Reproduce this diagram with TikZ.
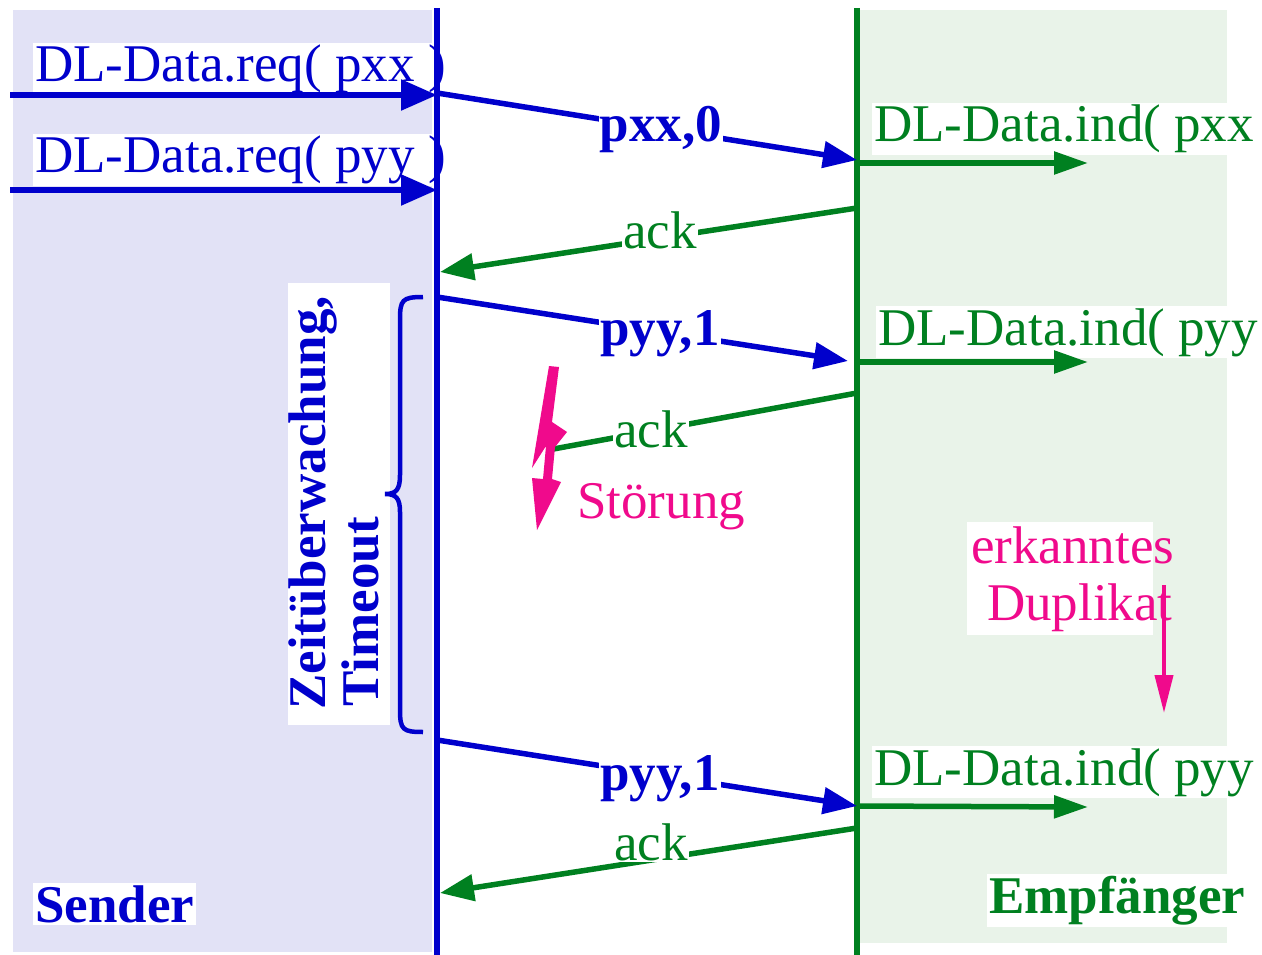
\documentclass[tikz,border=0pt]{standalone}
\usepackage{fontspec}
\setmainfont{Liberation Serif}
\usetikzlibrary{arrows.meta}
\definecolor{cblue}{RGB}{0,0,204}
\definecolor{cgreen}{RGB}{0,128,32}
\definecolor{cmag}{RGB}{240,10,140}
\definecolor{sbg}{RGB}{226,226,246}
\definecolor{ebg}{RGB}{233,243,233}
\begin{document}
\begin{tikzpicture}[x=1pt,y=-1pt,
  lbl/.style={inner sep=0pt, font=\fontsize{53}{58}\selectfont},
  wlbl/.style={lbl, fill=white, inner sep=2pt},
  onl/.style={lbl, fill=white, inner sep=1pt},
  bfont/.style={font=\fontsize{53}{58}\selectfont\bfseries},
  reqarrow/.style={draw=cblue, line width=5.5pt, -{Triangle[length=36pt,width=30pt]}},
  msgb/.style={draw=cblue, line width=5.5pt, -{Triangle[length=34pt,width=26pt]}},
  msgg/.style={draw=cgreen, line width=5.5pt, -{Triangle[length=34pt,width=26pt]}},
  indarrow/.style={draw=cgreen, line width=5.5pt, -{Triangle[length=34pt,width=22pt]}},
  lifeline/.style={line width=6pt}
]
\useasboundingbox (0,0) rectangle (1262,955);
\clip (0,0) rectangle (1262,955);

% backgrounds
\fill[sbg] (13,10) rectangle (432,952);
\fill[ebg] (860,10) rectangle (1227,943);

% coordinates on lifelines and free ends
\coordinate (STop) at (437,8);
\coordinate (SBot) at (437,955);
\coordinate (ETop) at (857,8);
\coordinate (EBot) at (857,955);
\coordinate (in1) at (10,95);
\coordinate (S1) at (437,95);
\coordinate (in2) at (10,190);
\coordinate (S2) at (437,190);
\coordinate (S3) at (437,93);
\coordinate (E1) at (857,160);
\coordinate (E1o) at (857,163);
\coordinate (out1) at (1088,163);
\coordinate (E2) at (857,208);
\coordinate (S4) at (440,272);
\coordinate (S5) at (437,297);
\coordinate (E3) at (848,361);
\coordinate (E3o) at (857,362);
\coordinate (out2) at (1088,362);
\coordinate (E4) at (857,393);
\coordinate (lost) at (548,450);
\coordinate (S6) at (437,740);
\coordinate (E5) at (857,806);
\coordinate (out3) at (1088,807);
\coordinate (E6) at (857,828);
\coordinate (S7) at (440,893);
\coordinate (dupA) at (1164,585);
\coordinate (dupB) at (1164,713);

% white-backed labels
\node[wlbl, text=cblue, anchor=base west] (reqA) at (33,82) {DL-Data.req( pxx )};
\node[wlbl, text=cblue, anchor=base west] (reqB) at (33,173) {DL-Data.req( pyy )};
\node[wlbl, text=cgreen, anchor=base west] (indA) at (872,142) {DL-Data.ind( pxx};
\node[wlbl, text=cgreen, anchor=base west] (indB) at (876,345) {DL-Data.ind( pyy};
\node[wlbl, text=cgreen, anchor=base west] (indC) at (872,785) {DL-Data.ind( pyy};
\node[wlbl, text=cblue, bfont, anchor=base west] (sender) at (33,922) {Sender};
\node[wlbl, text=cgreen, bfont, anchor=base west] (empf) at (987,913) {Empfänger};

\fill[white] (288,283) rectangle (390,725);
\node[lbl, text=cblue, bfont, rotate=90, anchor=base west] (zeit) at (325,710) {Zeitüberwachung,};
\node[lbl, text=cblue, bfont, rotate=90, anchor=base west] (tout) at (378,707) {Timeout};

\fill[white] (967,522) rectangle (1153,635);
\node[lbl, text=cmag, anchor=base west] (erk) at (971,563) {erkanntes};
\node[lbl, text=cmag, anchor=base west] (dup) at (987,620) {Duplikat};

% lifelines
\draw[lifeline, cblue] (STop) -- (SBot);
\draw[lifeline, cgreen] (ETop) -- (EBot);

% request / indication arrows
\draw[reqarrow] (in1) -- (S1);
\draw[reqarrow] (in2) -- (S2);
\draw[indarrow] (E1o) -- (out1);
\draw[indarrow] (E3o) -- (out2);
\draw[indarrow] (E5) -- (out3);

% messages
\draw[msgb] (S3) -- (E1);
\node[onl, text=cblue, bfont, anchor=base] (m1) at (661,142) {pxx,0};
\draw[msgg] (E2) -- (S4);
\node[onl, text=cgreen, anchor=base] (a1) at (660,248) {ack};
\draw[msgb] (S5) -- (E3);
\node[onl, text=cblue, bfont, anchor=base] (m2) at (660,345) {pyy,1};
\draw[draw=cgreen, line width=5.5pt] (E4) -- (lost);
\node[onl, text=cgreen, anchor=base] (a2) at (651,447) {ack};
\draw[msgb] (S6) -- (E5);
\node[onl, text=cblue, bfont, anchor=base] (m3) at (660,790) {pyy,1};
\draw[msgg] (E6) -- (S7);
\node[onl, text=cgreen, anchor=base] (a3) at (651,860) {ack};

% brace
\draw[cblue, line width=4.5pt] (423,297) .. controls (402,297) and (400,300) .. (400,320)
  -- (400,475) .. controls (400,490) and (396,494) .. (385,494)
  .. controls (396,494) and (400,498) .. (400,512)
  -- (400,710) .. controls (400,730) and (403,732) .. (423,732);

% lightning (Störung)
\fill[cmag] (549,366) -- (559,367) -- (552,422) -- (567,432) -- (555,447) -- (552,479)
  -- (561,482) -- (537,530) -- (532,478) -- (543,479) -- (546,446) -- (532,468) -- cycle;
\node[lbl, text=cmag, anchor=base west] (stoer) at (577,518) {Störung};

% duplicate arrow
\draw[cmag, line width=4pt, -{Triangle[length=38pt,width=18pt]}] (dupA) -- (dupB);
\end{tikzpicture}
\end{document}
